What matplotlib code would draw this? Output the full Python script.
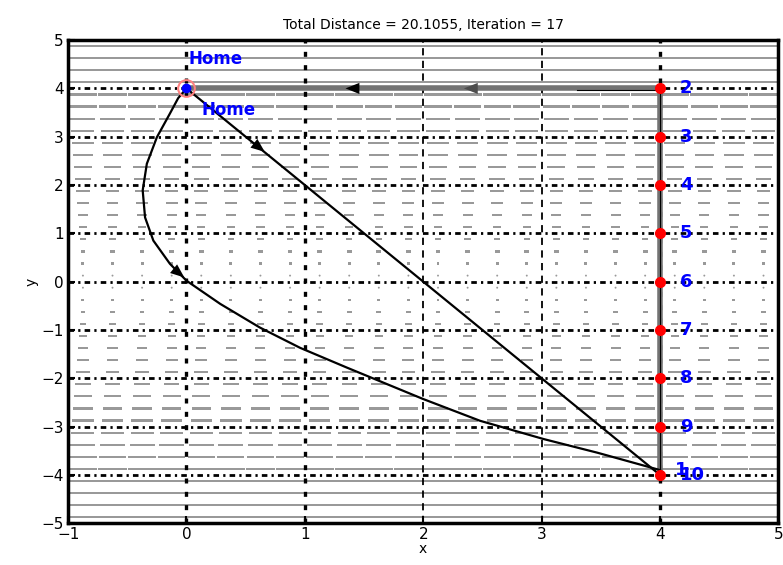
import numpy as np
import matplotlib.pyplot as plt

# route: home then the stops along x = 4
home = (0, 4)
stop_x = [4, 4, 4, 4, 4, 4, 4, 4, 4]
stop_y = [4, 3, 2, 1, 0, -1, -2, -3, -4]
stop_labels = ["2", "3", "4", "5", "6", "7", "8", "9", "10"]

# curved return path
curve_x = [0.0, -0.07, -0.14, -0.25, -0.335, -0.37, -0.35, -0.28, -0.14, 0.0,
           0.285, 0.62, 0.96, 1.356, 2.0, 2.48, 3.02, 3.47, 4.0]
curve_y = [4.0, 3.8, 3.48, 2.99, 2.44, 1.89, 1.33, 0.85, 0.37, 0.02,
           -0.46, -0.95, -1.37, -1.78, -2.43, -2.88, -3.26, -3.54, -3.9]

# background field: horizontal vectors, strength per row (|y| of row -> length)
row_abs_y = [0.125, 0.375, 0.625, 0.875, 1.125, 1.375, 1.625, 1.875, 2.125, 2.375,
             2.625, 2.875, 3.125, 3.375, 3.625, 3.875, 4.125, 4.375, 4.625, 4.875]
row_len = [0.01, 0.025, 0.04, 0.055, 0.07, 0.085, 0.10, 0.115, 0.13, 0.15,
           0.165, 0.18, 0.195, 0.21, 0.23, 0.245, 0.26, 0.275, 0.29, 0.31]
field_x = [-0.875, -0.625, -0.375, -0.125, 0.125, 0.375, 0.625, 0.875, 1.125, 1.375,
           1.625, 1.875, 2.125, 2.375, 2.625, 2.875, 3.125, 3.375, 3.625, 3.875,
           4.125, 4.375, 4.625, 4.875]

fig = plt.figure(figsize=(7.83, 5.65), dpi=100)
ax = fig.add_axes([0.087, 0.074, 0.907, 0.855])

fy = [-v for v in row_abs_y[::-1]] + row_abs_y
flen = row_len[::-1] + row_len
X, Y = np.meshgrid(field_x, fy)
U = np.tile(np.array(flen)[:, None], (1, len(field_x)))
ax.quiver(X, Y, U, np.zeros_like(U), angles="xy", scale_units="xy", scale=1,
          pivot="middle", color="0.6", width=0.003, headwidth=1,
          headlength=0, headaxislength=0, zorder=1)

# grid
for gx in [0, 1, 4]:
    ax.axvline(gx, color="k", lw=2.4, ls=(0, (1.5, 2.5)), zorder=2)
for gx in [2, 3]:
    ax.axvline(gx, color="k", lw=1.3, ls=(0, (4, 3)), zorder=2)
for gy in range(-4, 5):
    ax.axhline(gy, color="k", lw=2.0, ls=(0, (2, 1.5, 0.8, 1.5)), zorder=2)

# grey route (home -> 2 -> ... -> 10)
ax.plot([home[0]] + stop_x, [home[1]] + stop_y, color="0.45", lw=4, zorder=3)
ax.plot(stop_x, stop_y, color="k", lw=0.8, zorder=3)
ax.plot([3.3, 4], [3.97, 3.97], color="k", lw=0.8, zorder=3)

# straight line home -> 10 and curved line
ax.plot([home[0], stop_x[-1]], [home[1], stop_y[-1]], color="k", lw=1.6, zorder=4)
ax.plot(curve_x, curve_y, color="k", lw=1.6, zorder=4, solid_joinstyle="round")

# arrow heads
arr = dict(arrowstyle="-|>,head_length=1.0,head_width=0.4", color="k", lw=0)
ax.annotate("", xy=(1.32, 4), xytext=(1.6, 4), arrowprops=arr, zorder=5)
ax.annotate("", xy=(2.32, 4), xytext=(2.6, 4),
            arrowprops=dict(arr, color="0.3"), zorder=5)
ax.annotate("", xy=(0.68, 2.65), xytext=(0.5, 3.0), arrowprops=arr, zorder=5)
ax.annotate("", xy=(0.0, 0.05), xytext=(-0.2, 0.45), arrowprops=arr, zorder=5)

# stops
ax.plot(stop_x, stop_y, "o", color="red", ms=7, zorder=6)
ax.plot(*home, "o", mfc="none", mec="#ff8080", ms=12, mew=1.5, zorder=6)
ax.plot(*home, "o", color="blue", ms=6, zorder=7)

for x, y, s in zip(stop_x, stop_y, stop_labels):
    ax.text(x + 0.17, y, s, color="blue", fontsize=13, fontweight="bold",
            va="center", ha="left", zorder=7)
ax.text(4.13, -3.9, "1", color="blue", fontsize=13, fontweight="bold",
        va="center", ha="left", zorder=7)
ax.text(0.02, 4.5, "Home", color="blue", fontsize=12, fontweight="bold", zorder=7)
ax.text(0.13, 3.45, "Home", color="blue", fontsize=12, fontweight="bold", zorder=7)

ax.set_xlim(-1, 5)
ax.set_ylim(-5, 5)
ax.set_xticks(range(-1, 6))
ax.set_yticks(range(-5, 6))
ax.tick_params(direction="in", length=5, width=1.5, labelsize=11, pad=3)
for s in ax.spines.values():
    s.set_linewidth(2.5)

ax.set_title("Total Distance = 20.1055, Iteration = 17", fontsize=10, pad=8)
ax.set_xlabel("x", fontsize=10, labelpad=0)
ax.set_ylabel("y", fontsize=10, labelpad=2)

fig.savefig("out.png", dpi=100)
